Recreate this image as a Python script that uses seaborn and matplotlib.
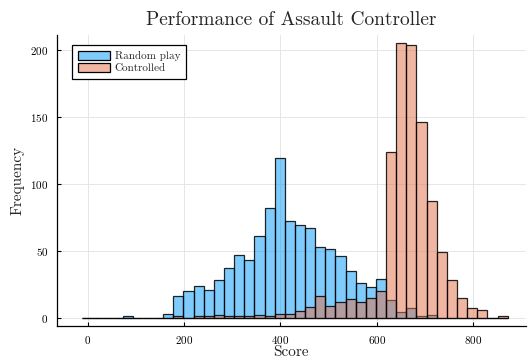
import numpy as np
import pandas as pd
import matplotlib
matplotlib.use("Agg")
import matplotlib.pyplot as plt
from matplotlib.patches import Patch
import seaborn as sns

# ---- data ----
bin_start = -11.5
bin_width = 21.02
random_counts = [0, 0, 0, 0, 1, 0, 0, 0, 3, 16, 20, 24, 21, 28, 37, 47, 43, 61, 82, 119,
                 72, 69, 67, 53, 51, 46, 35, 26, 23, 29, 13, 4, 7, 1, 2, 0, 0, 0, 0, 0, 0, 0]
controlled_counts = [0, 0, 0, 0, 0, 0, 0, 0, 0, 1, 0, 1, 1, 2, 1, 1, 1, 2, 1, 3,
                     3, 5, 8, 16, 9, 12, 14, 12, 15, 20, 124, 205, 204, 146, 87, 49, 28, 15, 7, 6, 0, 1]
series_labels = ["Random play", "Controlled"]
x_ticks = [0, 200, 400, 600, 800]
y_ticks = [0, 50, 100, 150, 200]

edges = [float(e) for e in bin_start + bin_width * np.arange(len(random_counts) + 1)]
centers = [(a + b) / 2 for a, b in zip(edges[:-1], edges[1:])]
df = pd.DataFrame({"score": centers, "random": random_counts, "controlled": controlled_counts})

sns.set_style("white")
plt.rcParams["font.family"] = ["cmr10", "DejaVu Serif"]
plt.rcParams["axes.formatter.use_mathtext"] = True
plt.rcParams["mathtext.fontset"] = "cm"

blue = (0.0, 0.604, 0.98, 0.5)
orange = (0.89, 0.435, 0.278, 0.5)
edge = (0, 0, 0, 0.85)

fig = plt.figure(figsize=(5.31, 3.6), dpi=100)
ax = fig.add_axes([56.5 / 531, 34 / 360, 469.5 / 531, 291 / 360])

for col, c in [("random", blue), ("controlled", orange)]:
    n_before = len(ax.patches)
    sns.histplot(data=df, x="score", weights=col, bins=edges, ax=ax,
                 stat="count", element="bars", fill=True)
    for p in ax.patches[n_before:]:
        p.set_alpha(None)
        p.set_facecolor(c)
        p.set_edgecolor(edge)
        p.set_linewidth(0.9)

ax.set_xlim(-64.7, 909.4)
ax.set_ylim(-6.15, 211.15)
ax.set_xticks(x_ticks)
ax.set_yticks(y_ticks)
for s in ["top", "right"]:
    ax.spines[s].set_visible(False)
for s in ["left", "bottom"]:
    ax.spines[s].set_color("black")
    ax.spines[s].set_linewidth(0.9)
ax.tick_params(direction="in", length=3, width=0.8, labelsize=8, pad=6,
               bottom=True, left=True, color="black", labelcolor="black")
ax.grid(True, color="#e6e6e6", linewidth=0.7)
ax.set_axisbelow(True)

ax.set_xlabel("Score", fontsize=11, labelpad=-0.5)
ax.set_ylabel("Frequency", fontsize=11, labelpad=4)
ax.set_title("Performance of Assault Controller", fontsize=14, pad=7)

handles = [Patch(facecolor=blue, edgecolor="black", linewidth=0.9),
           Patch(facecolor=orange, edgecolor="black", linewidth=0.9)]
leg = ax.legend(handles, series_labels, loc="upper left", bbox_to_anchor=(0.033, 0.966),
                borderaxespad=0, fontsize=8, frameon=True, fancybox=False,
                handlelength=2.9, handleheight=0.9, labelspacing=0.1,
                handletextpad=0.4, borderpad=0.55)
leg.get_frame().set_edgecolor("black")
leg.get_frame().set_linewidth(0.9)
leg.get_frame().set_alpha(1)

fig.savefig("out.png", dpi=100)
